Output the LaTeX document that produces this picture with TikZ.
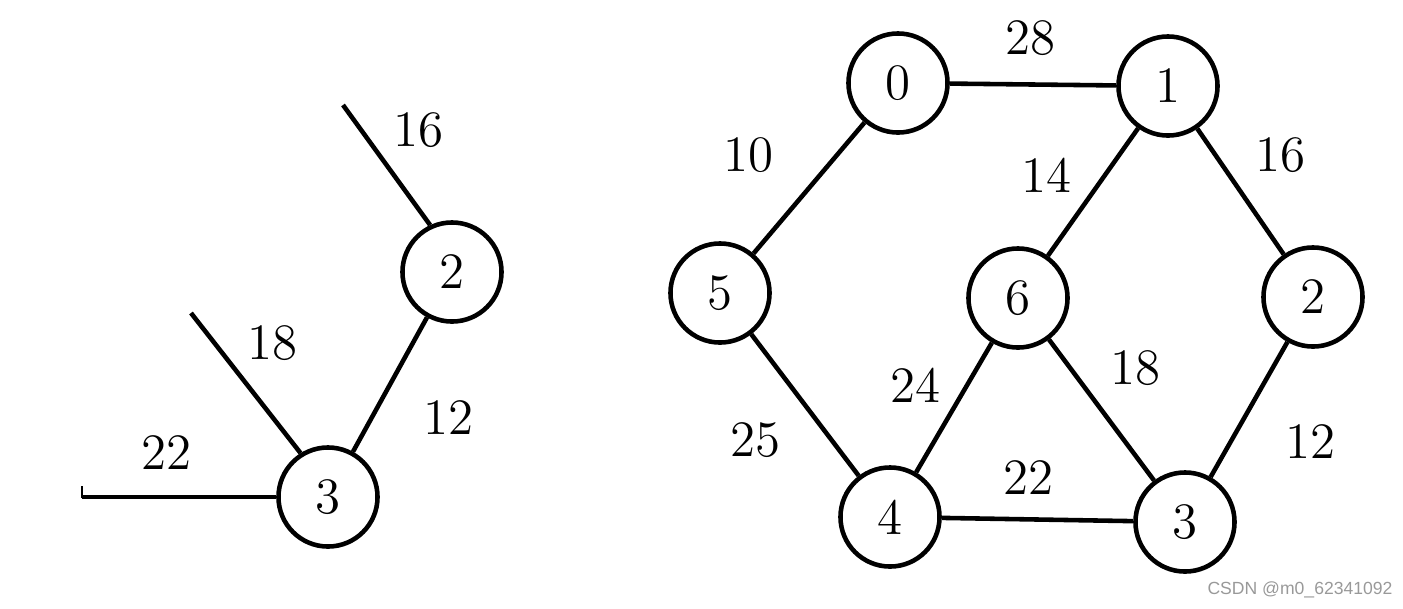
\documentclass[tikz,border=0pt]{standalone}
\usepackage{fontspec}
\newfontfamily\markfont{Liberation Sans}
\begin{document}
\begin{tikzpicture}[x=0.01cm, y=-0.01cm, line width=1.3pt,
    vnode/.style={circle, draw, line width=1.3pt, minimum size=0.99cm, inner sep=0pt, font=\fontsize{14.5}{17}\selectfont},
    wlabel/.style={font=\fontsize{14.5}{17}\selectfont}]
    \useasboundingbox (0,0) rectangle (1403,608);

    % Left part (partial tree)
    \node[vnode] (l2) at (452,272) {2};
    \node[vnode] (l3) at (328,497) {3};
    \coordinate (e16) at (343,105);
    \coordinate (e18) at (191,313);
    \coordinate (e22) at (82,497);
    \draw (e16) -- (l2.115);
    \draw (e18) -- (l3.122);
    \draw (e22) -- (l3.west);
    \draw (l3) -- (l2);
    \draw[line width=0.8pt] (82,486) -- (82,498);

    \node[wlabel] (t16) at (418,130) {16};
    \node[wlabel] (t18) at (272,343) {18};
    \node[wlabel] (t22) at (166,453) {22};
    \node[wlabel] (t12) at (448,418) {12};

    % Right part (full graph)
    \node[vnode] (v0) at (898,83) {0};
    \node[vnode] (v1) at (1168,86) {1};
    \node[vnode] (v5) at (720,293) {5};
    \node[vnode] (v6) at (1018,298) {6};
    \node[vnode] (v2) at (1313,297) {2};
    \node[vnode] (v4) at (890,517) {4};
    \node[vnode] (v3) at (1185,522) {3};

    \draw (v0) -- (v1);
    \draw (v0) -- (v5);
    \draw (v1) -- (v6);
    \draw (v1) -- (v2);
    \draw (v5) -- (v4);
    \draw (v6) -- (v4);
    \draw (v6) -- (v3);
    \draw (v2) -- (v3);
    \draw (v4) -- (v3);

    \node[wlabel] (w28) at (1030,38) {28};
    \node[wlabel] (w10) at (748,155) {10};
    \node[wlabel] (w14) at (1046,175) {14};
    \node[wlabel] (w16) at (1280,155) {16};
    \node[wlabel] (w24) at (915,385) {24};
    \node[wlabel] (w18) at (1135,368) {18};
    \node[wlabel] (w25) at (755,440) {25};
    \node[wlabel] (w22) at (1028,478) {22};
    \node[wlabel] (w12) at (1310,442) {12};

    % Watermark
    \node[font=\markfont\fontsize{5}{6}\selectfont, text=black!40] (mark) at (1300,590) {CSDN @m0\_62341092};
\end{tikzpicture}
\end{document}
